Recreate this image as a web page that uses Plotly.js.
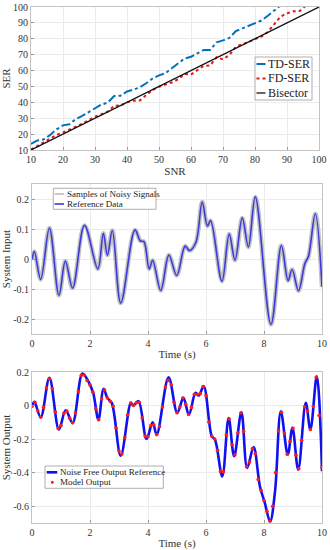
<!DOCTYPE html>
<html>
<head>
<meta charset="utf-8">
<script src="https://cdn.plot.ly/plotly-3.0.1.min.js"></script>
<style>html,body{margin:0;padding:0;background:#fff;}#chart{width:330px;height:550px;}</style>
</head>
<body>
<div id="chart"></div>
<script>
// ---------- DATA ----------
// Panel 1: SER vs SNR
const snrTD = [10,12,14,16,18,20,22,24,26,28,30,32,34,36,38,40,42,44,46,48,50,52,54,56,58,60,62,64,66,68,70,72,74,76,78,80,82,84,86,88];
const serTD = [13.8,16.0,16.7,19.5,23.0,25.5,26.2,29.5,31.5,33.8,36.5,38.6,39.8,44.0,44.2,46.8,48.0,49.4,52.0,55.0,57.0,58.3,61.5,64.6,67.6,68.7,71.0,73.0,73.0,77.8,79.0,80.5,84.8,86.5,88.2,89.7,91.5,94.5,97.8,101.0];
const snrFD = [10,12,14,16,18,20,22,24,26,28,30,32,34,36,38,40,42,44,46,48,50,52,54,56,58,60,62,64,66,68,70,72,74,76,78,80,82,84,86,88,90,92,94,96];
const serFD = [10.3,12.5,15.0,17.0,19.5,21.0,22.8,24.5,26.5,28.8,31.0,32.5,34.2,37.8,38.0,40.0,41.0,41.2,44.5,47.8,49.8,51.0,52.5,54.5,57.8,57.5,60.2,63.0,63.2,68.4,67.0,69.8,75.0,76.3,78.0,79.8,81.4,84.3,89.5,94.0,96.0,97.3,97.5,101.0];
const bisectorX = [10,100];
const bisectorY = [10,100];

// Panel 2: system input (reference data)
const inT = [0,0.08,0.30,0.60,0.93,1.15,1.40,1.81,2.27,2.46,2.60,2.77,3.06,3.55,3.74,3.86,4.04,4.16,4.44,4.72,4.99,5.28,5.43,5.65,5.87,6.05,6.16,6.55,6.80,7.00,7.25,7.46,7.70,8.24,8.60,8.83,8.97,9.19,9.41,9.53,9.77,10];
const inY = [-0.003,0.025,-0.068,0.103,-0.121,-0.007,-0.097,0.112,-0.033,0.086,0.013,0.095,-0.147,0.097,0.060,0.058,-0.033,-0.004,-0.105,0.013,-0.055,0.043,0.028,0.055,0.190,0.110,0.128,-0.074,0.083,-0.004,0.137,0.040,0.207,-0.218,0.045,-0.072,-0.035,-0.106,-0.015,0.008,0.151,-0.093];

// Panel 3: system output
const outT = [0,0.08,0.30,0.60,0.93,1.16,1.40,1.74,1.94,2.11,2.29,2.47,2.60,2.75,3.06,3.41,3.49,3.67,3.95,4.16,4.30,4.71,5.01,5.22,5.41,5.64,5.75,5.92,6.20,6.31,6.56,6.78,6.97,7.22,7.42,7.64,7.86,8.03,8.21,8.38,8.58,8.82,8.98,9.18,9.44,9.60,9.82,10];
const outY = [-0.004,0.022,-0.070,0.165,-0.143,-0.028,-0.103,0.191,0.145,0.076,-0.084,0.100,0.045,0.016,-0.299,0.016,0.000,0.026,-0.199,-0.100,-0.173,0.168,-0.044,0.046,-0.054,0.076,0.060,0.115,-0.183,-0.203,-0.422,-0.074,-0.302,-0.040,-0.372,-0.247,-0.482,-0.581,-0.691,-0.512,-0.034,-0.293,-0.133,-0.382,0.016,-0.143,0.175,-0.392];
const modelT = [0,0.1,0.2,0.3,0.4,0.5,0.6,0.7,0.8,0.9,1.0,1.1,1.2,1.3,1.4,1.5,1.6,1.7,1.8,1.9,2.0,2.1,2.2,2.3,2.4,2.5,2.6,2.7,2.8,2.9,3.0,3.1,3.2,3.3,3.4,3.5,3.6,3.7,3.8,3.9,4.0,4.1,4.2,4.3,4.4,4.5,4.6,4.7,4.8,4.9,5.0,5.1,5.2,5.3,5.4,5.5,5.6,5.7,5.8,5.9,6.0,6.1,6.2,6.3,6.4,6.5,6.6,6.7,6.8,6.9,7.0,7.1,7.2,7.3,7.4,7.5,7.6,7.7,7.8,7.9,8.0,8.1,8.2,8.3,8.4,8.5,8.6,8.7,8.8,8.9,9.0,9.1,9.2,9.3,9.4,9.5,9.6,9.7,9.8,9.9,10.0];
const modelY = [-0.004,0.020,-0.031,-0.070,-0.011,0.106,0.160,0.100,-0.039,-0.137,-0.119,-0.046,-0.033,-0.075,-0.103,-0.045,0.084,0.181,0.182,0.149,0.123,0.080,-0.020,-0.084,0.039,0.093,0.045,0.024,-0.004,-0.134,-0.271,-0.289,-0.190,-0.055,0.015,0.000,0.017,0.020,-0.074,-0.182,-0.186,-0.119,-0.114,-0.173,-0.125,-0.009,0.111,0.150,0.124,0.019,-0.043,-0.009,0.045,0.008,-0.053,-0.011,0.067,0.066,0.071,0.113,0.059,-0.099,-0.183,-0.200,-0.266,-0.392,-0.394,-0.176,-0.080,-0.234,-0.293,-0.163,-0.044,-0.155,-0.364,-0.336,-0.257,-0.287,-0.441,-0.505,-0.566,-0.630,-0.688,-0.600,-0.400,-0.150,-0.040,-0.164,-0.290,-0.213,-0.136,-0.296,-0.376,-0.207,-0.007,-0.033,-0.143,-0.006,0.169,-0.059,-0.370];

// tick labels
const snrTicks = [10,20,30,40,50,60,70,80,90,100];
const timeTicks = [0,2,4,6,8,10];
const inTickVals = [-0.2,-0.1,0,0.1,0.2];
const inTickText = ["-0.2","-0.1","0","0.1","0.2"];
const outTickVals = [-0.6,-0.4,-0.2,0,0.2];
const outTickText = ["-0.6","-0.4","-0.2","0","0.2"];

// ---------- STYLE HELPERS ----------
const W = 330, H = 550;
const px = v => v / W;
const py = v => 1 - v / H;
const FONT = "Liberation Serif";
const BLUE_TD = "#0072BD", RED = "#e31a1c";

function axis(extra) {
  return Object.assign({
    showline: true, mirror: true, linecolor: "#c4c4c4", linewidth: 1,
    showgrid: true, gridcolor: "#ebebeb", gridwidth: 1, zeroline: false,
    ticks: "inside", ticklen: 3, tickcolor: "#9a9a9a",
    tickfont: {family: FONT, size: 10, color: "#333"},
    fixedrange: true
  }, extra);
}
function atitle(text, standoff) {
  return {text: text, font: {family: FONT, size: 11, color: "#333"}, standoff: standoff};
}

// ---------- TRACES ----------
const traces = [
  {x: snrTD, y: serTD, xaxis: "x", yaxis: "y", mode: "lines", name: "TD-SER", showlegend: false,
   line: {color: BLUE_TD, width: 2, dash: "dashdot"}},
  {x: snrFD, y: serFD, xaxis: "x", yaxis: "y", mode: "lines", name: "FD-SER", showlegend: false,
   line: {color: RED, width: 2, dash: "dot"}},
  {x: bisectorX, y: bisectorY, xaxis: "x", yaxis: "y", mode: "lines", name: "Bisector", showlegend: false,
   line: {color: "#111", width: 1.3}},

  {x: inT, y: inY, xaxis: "x2", yaxis: "y2", mode: "lines", name: "Samples of Noisy Signals", showlegend: false,
   line: {color: "#c2c2c2", width: 4.5, shape: "spline", smoothing: 1}},
  {x: inT, y: inY, xaxis: "x2", yaxis: "y2", mode: "lines", name: "Reference Data", showlegend: false,
   line: {color: "#3b3bdc", width: 1.6, shape: "spline", smoothing: 1}},

  {x: outT, y: outY, xaxis: "x3", yaxis: "y3", mode: "lines", name: "Noise Free Output Reference", showlegend: false,
   line: {color: "#1010f0", width: 2.6, shape: "spline", smoothing: 1}},
  {x: modelT, y: modelY, xaxis: "x3", yaxis: "y3", mode: "markers", name: "Model Output", showlegend: false,
   marker: {color: "#ff1a1a", size: 3.6}}
];

// ---------- LEGENDS (drawn) ----------
const shapes = [
  {type: "rect", xref: "paper", yref: "paper", x0: px(255), x1: px(312), y0: py(100), y1: py(57),
   fillcolor: "#fff", line: {color: "#9a9a9a", width: 0.8}, layer: "above"},
  {type: "line", xref: "paper", yref: "paper", x0: px(256.5), x1: px(265.5), y0: py(64), y1: py(64),
   line: {color: BLUE_TD, width: 2, dash: "dashdot"}, layer: "above"},
  {type: "line", xref: "paper", yref: "paper", x0: px(256.5), x1: px(265.5), y0: py(78.5), y1: py(78.5),
   line: {color: RED, width: 2, dash: "dot"}, layer: "above"},
  {type: "line", xref: "paper", yref: "paper", x0: px(256.5), x1: px(265.5), y0: py(93), y1: py(93),
   line: {color: "#111", width: 1.3}, layer: "above"},

  {type: "rect", xref: "paper", yref: "paper", x0: px(53.3), x1: px(156), y0: py(209.3), y1: py(188.3),
   fillcolor: "#fff", line: {color: "#9a9a9a", width: 0.8}, layer: "above"},
  {type: "line", xref: "paper", yref: "paper", x0: px(54.5), x1: px(64), y0: py(194), y1: py(194),
   line: {color: "#a5a5a5", width: 1.2}, layer: "above"},
  {type: "line", xref: "paper", yref: "paper", x0: px(54.5), x1: px(64), y0: py(204), y1: py(204),
   line: {color: "#3b3bdc", width: 1.6}, layer: "above"},

  {type: "rect", xref: "paper", yref: "paper", x0: px(45), x1: px(163.3), y0: py(488.3), y1: py(466),
   fillcolor: "#fff", line: {color: "#9a9a9a", width: 0.8}, layer: "above"},
  {type: "line", xref: "paper", yref: "paper", x0: px(46.7), x1: px(57.3), y0: py(472.3), y1: py(472.3),
   line: {color: "#1010f0", width: 2.6}, layer: "above"},
  {type: "circle", xref: "paper", yref: "paper", x0: px(50.8), x1: px(53.8), y0: py(483.8), y1: py(480.8),
   fillcolor: "#ff1a1a", line: {width: 0}, layer: "above"}
];

function legText(text, x, y, size) {
  return {xref: "paper", yref: "paper", x: px(x), y: py(y), xanchor: "left", yanchor: "middle",
          text: text, showarrow: false, font: {family: FONT, size: size, color: "#222"}};
}
const annotations = [
  legText("TD-SER", 266, 64, 12),
  legText("FD-SER", 266, 78.5, 12),
  legText("Bisector", 266, 93, 12),
  legText("Samples of Noisy Signals", 64.5, 194, 9),
  legText("Reference Data", 64.5, 204, 9),
  legText("Noise Free Output Reference", 57.5, 472.3, 9),
  legText("Model Output", 57.5, 482.3, 9)
];

// ---------- LAYOUT ----------
const layout = {
  width: W, height: H,
  margin: {l: 0, r: 0, t: 0, b: 0},
  paper_bgcolor: "#fff", plot_bgcolor: "#fff",
  showlegend: false,
  font: {family: FONT},
  xaxis: axis({domain: [px(31), px(319)], anchor: "y", range: [10, 100], tickvals: snrTicks,
               title: atitle("SNR", 2)}),
  yaxis: axis({domain: [py(150), py(7)], anchor: "x", range: [10, 100], tickvals: snrTicks,
               title: atitle("SER", 2)}),
  xaxis2: axis({domain: [px(32), px(322)], anchor: "y2", range: [0, 10], tickvals: timeTicks,
                title: atitle("Time (s)", 2)}),
  yaxis2: axis({domain: [py(334), py(184)], anchor: "x2", range: [-0.25, 0.25],
                tickvals: inTickVals, ticktext: inTickText, title: atitle("System Input", 2)}),
  xaxis3: axis({domain: [px(32), px(322)], anchor: "y3", range: [0, 10], tickvals: timeTicks,
                title: atitle("Time (s)", 2)}),
  yaxis3: axis({domain: [py(523), py(372)], anchor: "x3", range: [-0.7, 0.2],
                tickvals: outTickVals, ticktext: outTickText, title: atitle("System Output", 2)}),
  shapes: shapes,
  annotations: annotations
};

Plotly.newPlot("chart", traces, layout, {staticPlot: true, displayModeBar: false});
</script>
</body>
</html>
